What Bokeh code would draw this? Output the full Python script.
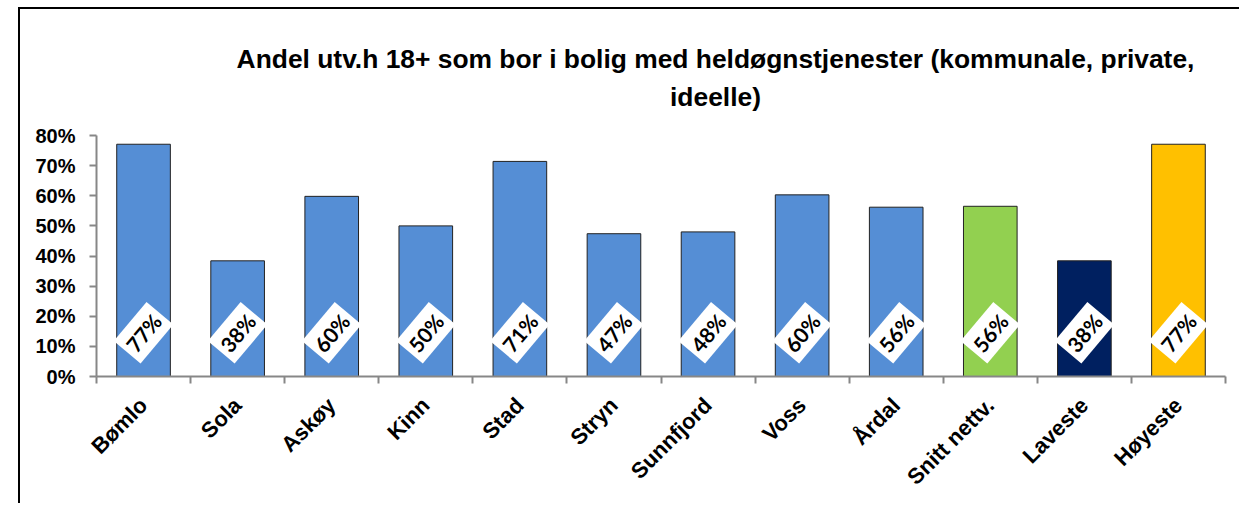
import math
from bokeh.plotting import figure
from bokeh.models import FixedTicker, NumeralTickFormatter, Label, Range1d, ColumnDataSource
from bokeh.core.properties import value
from bokeh.embed import file_html
from bokeh.resources import INLINE

# ---- data ----
categories = ["Bømlo", "Sola", "Askøy", "Kinn", "Stad", "Stryn", "Sunnfjord",
              "Voss", "Årdal", "Snitt nettv.", "Laveste", "Høyeste"]
values = [0.771, 0.384, 0.598, 0.500, 0.714, 0.474, 0.480, 0.603, 0.562, 0.565, 0.384, 0.771]
colors = ["#558ED5"] * 9 + ["#92D050", "#002060", "#FFC000"]
y_ticks = [0.0, 0.1, 0.2, 0.3, 0.4, 0.5, 0.6, 0.7, 0.8]
title_lines = ["Andel utv.h 18+ som bor i bolig med heldøgnstjenester (kommunale, private,",
               "ideelle)"]

n = len(categories)
xs = [i + 0.5 for i in range(n)]
labels = [f"{round(v * 100)}%" for v in values]

src = ColumnDataSource(dict(x=xs, top=values, color=colors, label=labels,
                            ly=[0.145] * n))

# frame: 241 px for 0..0.8, frame height 367 px (title drawn inside the frame area)
y_top = 0.8 * 367 / 241

p = figure(width=1221, height=496, output_backend="svg", toolbar_location=None,
           x_range=Range1d(0, n), y_range=Range1d(0, y_top),
           min_border_left=76, min_border_right=16, min_border_top=0,
           min_border_bottom=129)
p.styles = {"margin-left": "18px", "margin-top": "7px",
            "border-left": "2px solid black", "border-top": "2px solid black"}
p.outline_line_color = None
p.xgrid.visible = False
p.ygrid.visible = False

p.vbar(x="x", top="top", width=0.57, fill_color="color", line_color="#222222",
       line_width=1, source=src)

ang = math.radians(50)
p.rect(x="x", y="ly", width=51, height=35, width_units="screen", height_units="screen",
       angle=ang, fill_color="white", line_color=None, source=src)
p.text(x="x", y="ly", text="label", angle=ang, text_align="center",
       text_baseline="middle", text_font=value("Lato"), text_font_style="bold",
       text_font_size="21px", text_color="black", source=src)

axis_gray = "#878787"
# y axis
ya = p.yaxis[0]
ya.ticker = FixedTicker(ticks=y_ticks)
ya.bounds = (0, 0.8)
ya.formatter = NumeralTickFormatter(format="0%")
ya.axis_line_color = axis_gray
ya.axis_line_width = 2
ya.major_tick_line_color = axis_gray
ya.major_tick_line_width = 2
ya.major_tick_out = 7
ya.major_tick_in = 0
ya.minor_tick_line_color = None
ya.major_label_text_font = "Liberation Sans"
ya.major_label_text_font_style = "bold"
ya.major_label_text_font_size = "20px"
ya.major_label_text_color = "black"
ya.major_label_standoff = 14

# x axis
xa = p.xaxis[0]
xa.ticker = FixedTicker(ticks=xs, minor_ticks=list(range(n + 1)))
xa.major_label_overrides = {x: c for x, c in zip(xs, categories)}
xa.axis_line_color = axis_gray
xa.axis_line_width = 2
xa.major_tick_line_color = None
xa.minor_tick_line_color = axis_gray
xa.minor_tick_line_width = 2
xa.minor_tick_out = 7
xa.minor_tick_in = 0
xa.major_label_orientation = math.pi / 4
xa.major_label_text_font = "Liberation Sans"
xa.major_label_text_font_style = "bold"
xa.major_label_text_font_size = "22px"
xa.major_label_text_color = "black"
xa.major_label_standoff = 18

# title (two lines)
for txt, yy in zip(title_lines, [318, 280]):
    p.add_layout(Label(x=619, y=yy, x_units="screen", y_units="screen", text=txt,
                       text_align="center", text_baseline="alphabetic",
                       text_font="Liberation Sans", text_font_style="bold",
                       text_font_size="26.4px", text_color="black"))

html = file_html(p, INLINE)
html = html.replace("<head>", "<head><style>html, body { overflow: hidden; }</style>", 1)
open("out.html", "w").write(html)
